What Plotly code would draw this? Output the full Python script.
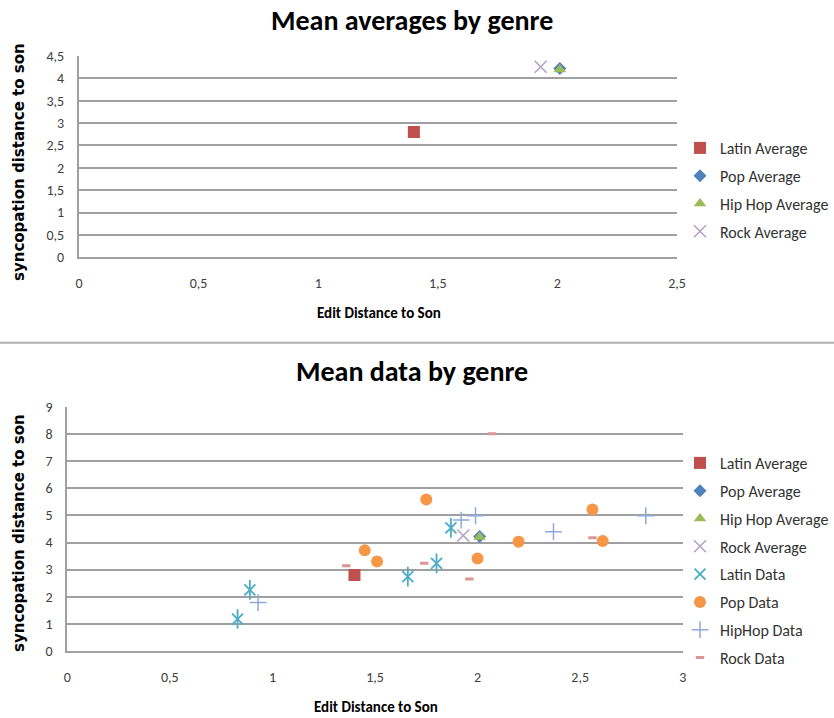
import plotly.graph_objects as go

W, H = 834, 718

# ---------------- data ----------------
avg_names = ["Latin Average", "Pop Average", "Hip Hop Average", "Rock Average"]
avg_x = [1.40, 2.01, 2.01, 1.93]
avg_y = [2.80, 4.22, 4.20, 4.26]

latin_x = [0.83, 0.89, 1.66, 1.80, 1.87]
latin_y = [1.17, 2.25, 2.74, 3.23, 4.54]
pop_x = [1.45, 1.51, 1.75, 2.00, 2.20, 2.56, 2.61]
pop_y = [3.71, 3.30, 5.59, 3.41, 4.03, 5.22, 4.06]
hiphop_x = [0.93, 1.92, 1.99, 2.37, 2.82]
hiphop_y = [1.78, 4.83, 4.99, 4.40, 4.99]
rock_x = [1.36, 1.74, 1.96, 2.07, 2.56]
rock_y = [3.14, 3.23, 2.65, 8.02, 4.18]

x_title = "Edit Distance to Son"
y_title = "syncopation distance to son"
title_top = "Mean averages by genre"
title_bottom = "Mean data by genre"

# ---------------- styles ----------------
avg_styles = [
    dict(symbol="square", size=12, color="#C0504D"),
    dict(symbol="diamond", size=10, color="#4F81BD"),
    dict(symbol="triangle-up", size=11, color="#9BBB59"),
    dict(symbol="x-thin-open", size=12, color="#B3A2C7", line=dict(width=1.6, color="#B3A2C7")),
]

def px(x):
    return x / W

def py(y):
    return 1 - y / H

fig = go.Figure()

def add_avgs(xa, ya, leg):
    for i, n in enumerate(avg_names):
        st = dict(avg_styles[i])
        fig.add_trace(go.Scatter(
            x=[avg_x[i]], y=[avg_y[i]], mode="markers", name=n,
            legendgroup=leg + n, legend=leg, xaxis=xa, yaxis=ya,
            marker=st))

add_avgs("x", "y", "legend")
add_avgs("x2", "y2", "legend2")

# Latin data: star = X + vertical bar
fig.add_trace(go.Scatter(x=latin_x, y=latin_y, mode="markers", name="Latin Data",
                         legendgroup="l2Latin Data", legend="legend2", xaxis="x2", yaxis="y2",
                         marker=dict(symbol="x-thin-open", size=11, color="#4BACC6",
                                     line=dict(width=1.8, color="#4BACC6"))))
fig.add_trace(go.Scatter(x=latin_x, y=latin_y, mode="markers", showlegend=False,
                         xaxis="x2", yaxis="y2", hoverinfo="skip",
                         marker=dict(symbol="line-ns-open", size=14, color="#4BACC6",
                                     line=dict(width=1.8, color="#4BACC6"))))
fig.add_trace(go.Scatter(x=pop_x, y=pop_y, mode="markers", name="Pop Data",
                         legendgroup="l2Pop Data", legend="legend2", xaxis="x2", yaxis="y2",
                         marker=dict(symbol="circle", size=12, color="#F79646")))
fig.add_trace(go.Scatter(x=hiphop_x, y=hiphop_y, mode="markers", name="HipHop Data",
                         legendgroup="l2HipHop Data", legend="legend2", xaxis="x2", yaxis="y2",
                         marker=dict(symbol="cross-thin-open", size=12, color="#8EA9DB",
                                     line=dict(width=1.5, color="#8EA9DB"))))
fig.add_trace(go.Scatter(x=rock_x, y=rock_y, mode="markers", name="Rock Data",
                         legendgroup="l2Rock Data", legend="legend2", xaxis="x2", yaxis="y2",
                         marker=dict(symbol="line-ew-open", size=6, color="#DA9694",
                                     line=dict(width=3, color="#DA9694"))))

grid = "#A0A0A0"
tickfont = dict(family="Carlito, Lato, sans-serif", size=14, color="#404040")

def xax(domain, rng, anchor):
    return dict(domain=domain, range=rng, dtick=0.5, tick0=0, showgrid=False, zeroline=False,
                showline=True, linecolor=grid, linewidth=2, ticks="", tickfont=tickfont,
                ticklabelstandoff=12, anchor=anchor, fixedrange=True, automargin=False)

def yax(domain, rng, dtick, anchor):
    return dict(domain=domain, range=rng, dtick=dtick, tick0=0, showgrid=True, gridcolor=grid,
                gridwidth=2, zeroline=False, showline=True, linecolor=grid, linewidth=2,
                ticks="", tickfont=tickfont, ticklabelstandoff=10, anchor=anchor, fixedrange=True,
                automargin=False)

legfont = dict(family="Carlito, Lato, sans-serif", size=16, color="#333333")

fig.update_layout(
    width=W, height=H, margin=dict(l=0, r=0, t=0, b=0, autoexpand=False),
    paper_bgcolor="white", plot_bgcolor="white",
    separators=", ",
    xaxis=xax([px(79), px(677)], [0, 2.5], "y"),
    yaxis=yax([py(257.3), py(56)], [0, 4.5], 0.5, "x"),
    xaxis2=xax([px(67.3), px(682.7)], [0, 3], "y2"),
    yaxis2=yax([py(650.7), py(407.3)], [0, 9], 1, "x2"),
    legend=dict(x=px(680), y=py(131), xanchor="left", yanchor="top", font=legfont,
                bgcolor="rgba(0,0,0,0)", tracegroupgap=4, itemwidth=30),
    legend2=dict(x=px(680), y=py(446), xanchor="left", yanchor="top", font=legfont,
                 bgcolor="rgba(0,0,0,0)", tracegroupgap=4, itemwidth=30),
    showlegend=True,
)

titlefont = dict(family="Carlito, Lato, sans-serif", size=28, color="#000000")
axtitlefont = dict(family="Carlito, Lato, sans-serif", size=15, color="#000000")
ytitlefont = dict(family="DejaVu Sans", size=15, color="#000000")

ann = [
    dict(text="<b>%s</b>" % title_top, x=px(412), y=py(20)),
    dict(text="<b>%s</b>" % title_bottom, x=px(412), y=py(372)),
]
for a in ann:
    a.update(font=titlefont)
ann += [
    dict(text="<b>%s</b>" % x_title, x=px(379), y=py(313), font=axtitlefont),
    dict(text="<b>%s</b>" % x_title, x=px(376), y=py(707), font=axtitlefont),
    dict(text="<b>%s</b>" % y_title, x=px(19), y=py(162), font=ytitlefont, textangle=-90),
    dict(text="<b>%s</b>" % y_title, x=px(19), y=py(533), font=ytitlefont, textangle=-90),
]
for a in ann:
    a.update(xref="paper", yref="paper", showarrow=False, xanchor="center", yanchor="middle")
fig.update_layout(annotations=ann)

fig.add_shape(type="line", xref="paper", yref="paper", x0=0, x1=1, y0=py(342.7), y1=py(342.7),
              line=dict(color="#B0B0B0", width=2))

fig.write_html("out.html")
